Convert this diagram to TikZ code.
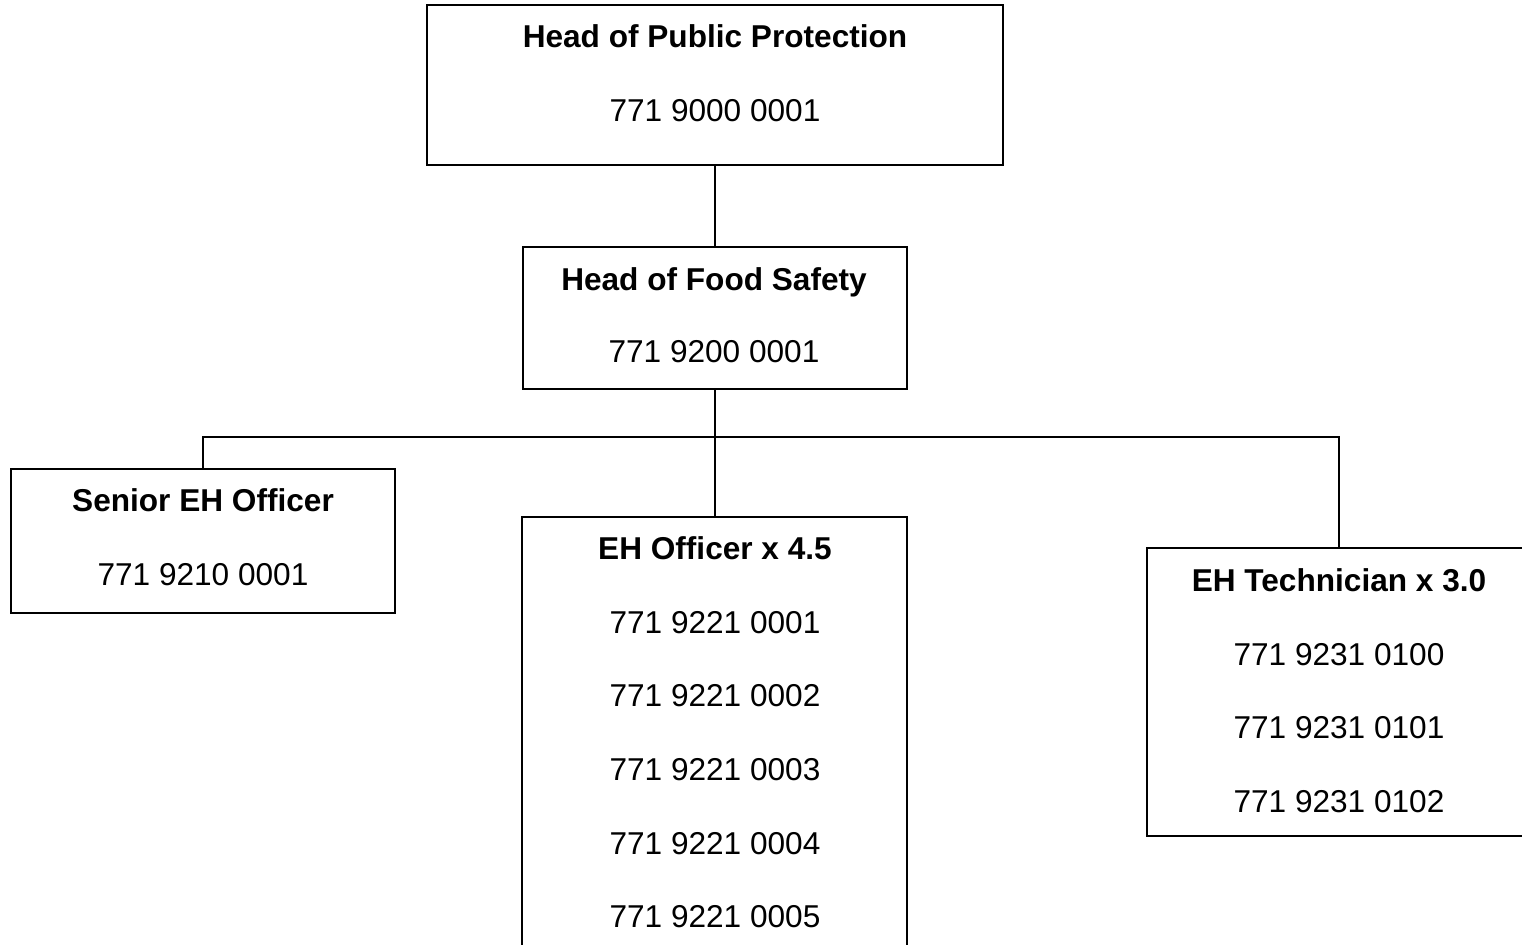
\documentclass[tikz,border=0pt]{standalone}
\usepackage{fontspec}
\setmainfont{Liberation Sans}
\begin{document}
\begin{tikzpicture}[x=0.5pt,y=-0.5pt,
  box/.style={draw=black,line width=1pt,fill=white,inner sep=0pt,outer sep=0pt},
  txt/.style={anchor=base,inner sep=0pt,font=\fontsize{15.8}{19}\selectfont},
  ttl/.style={txt,font=\fontsize{15.8}{19}\selectfont\bfseries},
  link/.style={draw=black,line width=1pt}]
\useasboundingbox (0,0) rectangle (1522,945);
\clip (0,0) rectangle (1522,945);
\fill[white] (0,0) rectangle (1522,945);
% boxes
\node[box,minimum width=288pt,minimum height=80pt] (top) at (715,85) {};
\node[box,minimum width=192pt,minimum height=71pt] (food) at (714.5,318) {};
\node[box,minimum width=192pt,minimum height=72pt] (senior) at (203,541) {};
\node[box,minimum width=192.5pt,minimum height=229pt] (officer) at (714.5,746) {};
\node[box,minimum width=192pt,minimum height=144pt] (tech) at (1339,692) {};
% connectors
\coordinate (jc) at (715,437);
\draw[link] (top.south) -- (top.south |- food.north);
\draw[link] (jc |- food.south) -- (jc);
\draw[link] (jc) -- (jc |- officer.north);
\draw[link] (jc) -| (senior.north);
\draw[link] (jc) -| (tech.north);
% texts
\node[ttl] (t1) at (715,48) {Head of Public Protection};
\node[txt] (n1) at (715,122) {771 9000 0001};
\node[ttl] (t2) at (714,291) {Head of Food Safety};
\node[txt] (n2) at (714,363) {771 9200 0001};
\node[ttl] (t3) at (203,512) {Senior EH Officer};
\node[txt] (n3) at (203,586) {771 9210 0001};
\node[ttl] (t4) at (715,560) {EH Officer x 4.5};
\node[txt] (n4a) at (715,634) {771 9221 0001};
\node[txt] (n4b) at (715,707) {771 9221 0002};
\node[txt] (n4c) at (715,781) {771 9221 0003};
\node[txt] (n4d) at (715,855) {771 9221 0004};
\node[txt] (n4e) at (715,928) {771 9221 0005};
\node[ttl] (t5) at (1339,592) {EH Technician x 3.0};
\node[txt] (n5a) at (1339,666) {771 9231 0100};
\node[txt] (n5b) at (1339,739) {771 9231 0101};
\node[txt] (n5c) at (1339,813) {771 9231 0102};
\end{tikzpicture}
\end{document}
